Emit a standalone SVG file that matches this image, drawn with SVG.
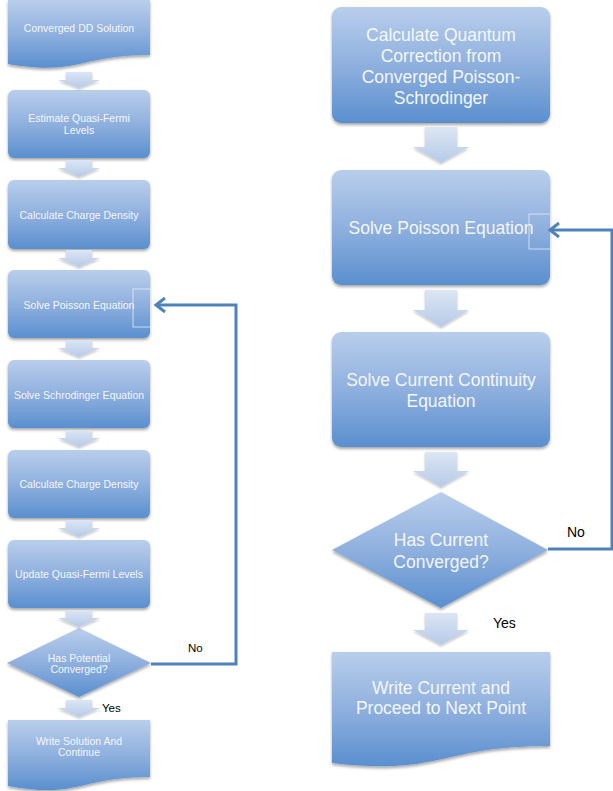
<svg xmlns="http://www.w3.org/2000/svg" width="613" height="791" viewBox="0 0 613 791">
<style>
.box{fill:url(#g);filter:url(#sh);}
.arr{fill:url(#ga);filter:url(#sh2);}
.t{font-family:"Liberation Sans",Arial,sans-serif;fill:#F4F7FC;text-anchor:middle;}
.s{font-size:10.5px;}
.b{font-size:17.5px;}
.lbl{font-family:"Liberation Sans",Arial,sans-serif;fill:#000;}
.fb{fill:none;stroke:#4F81BD;stroke-width:3;}
.ghost{fill:none;stroke:#E4ECF6;stroke-width:0.8;}
</style>
<defs>
<linearGradient id="g" x1="0" y1="0" x2="0" y2="1">
<stop offset="0" stop-color="#B9CEEC"/>
<stop offset="0.5" stop-color="#8FB0DE"/>
<stop offset="1" stop-color="#5A8FCF"/>
</linearGradient>
<linearGradient id="ga" x1="0" y1="0" x2="0" y2="1">
<stop offset="0" stop-color="#DCE6F4"/>
<stop offset="1" stop-color="#B6CAE7"/>
</linearGradient>
<filter id="sh" x="-10%" y="-10%" width="120%" height="130%">
<feDropShadow dx="0" dy="2" stdDeviation="1.6" flood-color="#000" flood-opacity="0.35"/>
</filter>
<filter id="sh2" x="-20%" y="-20%" width="140%" height="150%">
<feDropShadow dx="0" dy="1.5" stdDeviation="1.2" flood-color="#000" flood-opacity="0.25"/>
</filter>
<marker id="chev" viewBox="0 0 14 16" refX="11" refY="8" markerWidth="14" markerHeight="16" markerUnits="userSpaceOnUse" orient="auto">
<path d="M2,1 L11,8 L2,15" fill="none" stroke="#4F81BD" stroke-width="3"/>
</marker>
</defs>

<!-- Left column -->
<g id="L1">
<path class="box" d="M8,0 H150 V55 C79,55 79,76 8,64 Z"/>
<text class="t s" x="79" y="32">Converged DD Solution</text>
</g>
<g id="L2">
<rect class="box" x="8" y="90" width="142" height="68" rx="6"/>
<text class="t s" x="79" y="121.5">Estimate Quasi-Fermi</text>
<text class="t s" x="79" y="133.5">Levels</text>
</g>
<g id="L3">
<rect class="box" x="8" y="180" width="142" height="69" rx="6"/>
<text class="t s" x="79" y="218.5">Calculate Charge Density</text>
</g>
<g id="L4">
<rect class="box" x="8" y="270" width="142" height="68" rx="6"/>
<rect class="ghost" x="133" y="289" width="18" height="38"/>
<text class="t s" x="79" y="308.5">Solve Poisson Equation</text>
</g>
<g id="L5">
<rect class="box" x="8" y="360" width="142" height="68" rx="6"/>
<text class="t s" x="79" y="398.5">Solve Schrodinger Equation</text>
</g>
<g id="L6">
<rect class="box" x="8" y="450" width="142" height="68" rx="6"/>
<text class="t s" x="79" y="487.5">Calculate Charge Density</text>
</g>
<g id="L7">
<rect class="box" x="8" y="540" width="142" height="68" rx="6"/>
<text class="t s" x="79" y="577.5">Update Quasi-Fermi Levels</text>
</g>
<g id="L8">
<polygon class="box" points="7,663 79,628 151,663 79,697"/>
<text class="t s" x="79" y="661.5">Has Potential</text>
<text class="t s" x="79" y="673">Converged?</text>
</g>
<g id="L9">
<path class="box" d="M8,720 H150 V777 C79,777 79,799 8,786 Z"/>
<text class="t s" x="79" y="744.5">Write Solution And</text>
<text class="t s" x="79" y="756">Continue</text>
</g>

<!-- Right column -->
<g id="R1">
<rect class="box" x="332" y="7" width="218" height="116" rx="9"/>
<text class="t b" x="441" y="41">Calculate Quantum</text>
<text class="t b" x="441" y="62">Correction from</text>
<text class="t b" x="441" y="83">Converged Poisson-</text>
<text class="t b" x="441" y="104">Schrodinger</text>
</g>
<g id="R2">
<rect class="box" x="332" y="170" width="218" height="115" rx="9"/>
<rect class="ghost" x="529" y="214" width="22" height="35"/>
<text class="t b" x="441" y="234">Solve Poisson Equation</text>
</g>
<g id="R3">
<rect class="box" x="332" y="332" width="218" height="115" rx="9"/>
<text class="t b" x="441" y="386">Solve Current Continuity</text>
<text class="t b" x="441" y="407">Equation</text>
</g>
<g id="R4">
<polygon class="box" points="332,550 441,492 548,550 441,608"/>
<text class="t b" x="441" y="546">Has Current</text>
<text class="t b" x="441" y="568">Converged?</text>
</g>
<g id="R5">
<path class="box" d="M332,652 H550 V746 C441,746 441,776 332,763 Z"/>
<text class="t b" x="441" y="694">Write Current and</text>
<text class="t b" x="441" y="714">Proceed to Next Point</text>
</g>

<!-- Connectors -->
<g id="connectors">
<!-- left block arrows -->
<path class="arr" d="M66,72 H92 V80 H100 L79,88 L58,80 H66 Z"/>
<path class="arr" d="M66,160 H92 V168 H100 L79,177 L58,168 H66 Z"/>
<path class="arr" d="M66,250 H92 V258 H100 L79,267 L58,258 H66 Z"/>
<path class="arr" d="M66,340 H92 V348 H100 L79,357 L58,348 H66 Z"/>
<path class="arr" d="M66,430 H92 V438 H100 L79,447 L58,438 H66 Z"/>
<path class="arr" d="M66,520 H92 V528 H100 L79,537 L58,528 H66 Z"/>
<path class="arr" d="M66,610 H92 V618 H100 L79,627 L58,618 H66 Z"/>
<path class="arr" d="M66,700 H92 V708 H100 L79,717 L58,708 H66 Z"/>
<!-- right block arrows -->
<path class="arr" d="M425,127 H457 V147 H469 L441,163 L413,147 H425 Z"/>
<path class="arr" d="M425,290 H457 V310 H469 L441,327 L413,310 H425 Z"/>
<path class="arr" d="M425,452 H457 V471 H469 L441,487 L413,471 H425 Z"/>
<path class="arr" d="M425,613 H457 V630 H469 L441,645 L413,630 H425 Z"/>
<!-- feedback loops -->
<polyline class="fb" points="151,664 236,664 236,305 156,305" marker-end="url(#chev)"/>
<polyline class="fb" points="548,549 612,549 612,230 550,230" marker-end="url(#chev)"/>
<text class="lbl" x="188" y="651.5" font-size="11.5">No</text>
<text class="lbl" x="102" y="711.5" font-size="11.5">Yes</text>
<text class="lbl" x="567" y="537" font-size="14">No</text>
<text class="lbl" x="493" y="628" font-size="14">Yes</text>
</g>
</svg>
